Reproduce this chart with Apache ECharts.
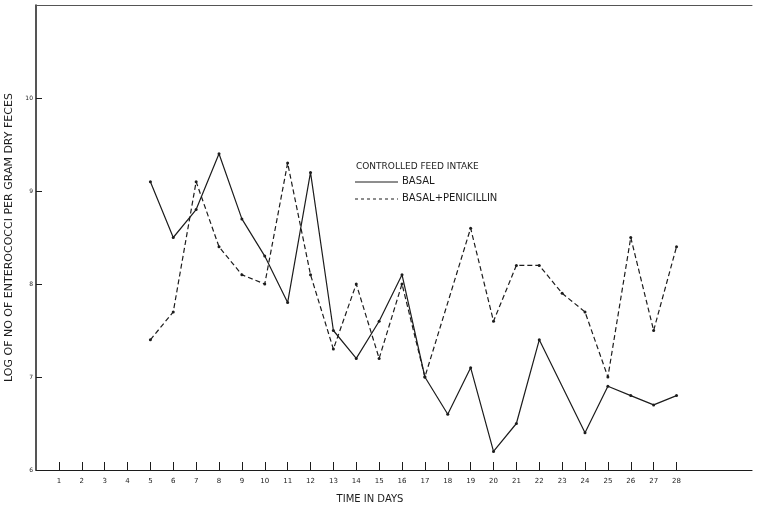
<!DOCTYPE html>
<html>
<head>
<meta charset="utf-8">
<script src="https://cdn.jsdelivr.net/npm/echarts@6/dist/echarts.min.js"></script>
<style>
    html,body{margin:0;padding:0;background:#fff;}
    #chart{width:762px;height:507px;}
</style>
</head>
<body>
<div id="chart"></div>
<script>
    // days shown on the axis
    var days = [1,2,3,4,5,6,7,8,9,10,11,12,13,14,15,16,17,18,19,20,21,22,23,24,25,26,27,28];
    var yTicks = [6,7,8,9,10];

    // basal (solid), no point read at day 23
    var basalDays = [5,6,7,8,9,10,11,12,13,14,15,16,17,18,19,20,21,22,24,25,26,27,28];
    var basalVals = [9.1,8.5,8.8,9.4,8.7,8.3,7.8,9.2,7.5,7.2,7.6,8.1,7.0,6.6,7.1,6.2,6.5,7.4,6.4,6.9,6.8,6.7,6.8];

    // basal + penicillin (dashed), no point read at day 18
    var penDays = [5,6,7,8,9,10,11,12,13,14,15,16,17,19,20,21,22,23,24,25,26,27,28];
    var penVals = [7.4,7.7,9.1,8.4,8.1,8.0,9.3,8.1,7.3,8.0,7.2,8.0,7.0,8.6,7.6,8.2,8.2,7.9,7.7,7.0,8.5,7.5,8.4];

    function pairs(xs, ys){
        return xs.map(function(x, i){ return [x, ys[i]]; });
    }

    var ink = '#1c1c1c';
    var font = '"DejaVu Sans", sans-serif';

    var chart = echarts.init(document.getElementById('chart'));
    var option = {
        backgroundColor: '#fff',
        animation: false,
        grid: {left: 36, right: 10, top: 5, bottom: 37, containLabel: false, outerBoundsMode: 'none'},
        xAxis: [{
            type: 'value',
            min: 0,
            max: 31.3,
            interval: 1,
            name: 'TIME IN DAYS',
            nameLocation: 'middle',
            nameGap: 24,
            nameTextStyle: {color: ink, fontSize: 10, fontFamily: font, padding: [0, 48, 0, 0]},
            axisLine: {lineStyle: {color: ink, width: 1.2}},
            axisTick: {inside: true, length: 8, customValues: days, lineStyle: {color: ink}},
            axisLabel: {customValues: days, color: ink, fontSize: 7, fontFamily: font, margin: 8},
            splitLine: {show: false}
        }, {
            type: 'value',
            position: 'top',
            min: 0,
            max: 31.3,
            axisLine: {show: true, lineStyle: {color: '#555', width: 1}},
            axisTick: {show: false},
            axisLabel: {show: false},
            splitLine: {show: false}
        }],
        yAxis: {
            type: 'value',
            min: 6,
            max: 11,
            interval: 1,
            name: 'LOG OF NO OF ENTEROCOCCI PER GRAM DRY FECES',
            nameLocation: 'middle',
            nameGap: 9,
            nameTextStyle: {color: ink, fontSize: 11, fontFamily: font},
            axisLine: {show: true, lineStyle: {color: ink, width: 1.5}},
            axisTick: {inside: true, length: 6, customValues: [7,8,9,10], lineStyle: {color: ink}},
            axisLabel: {customValues: yTicks, color: ink, fontSize: 6, fontFamily: font, margin: 3},
            splitLine: {show: false}
        },
        series: [{
            name: 'BASAL',
            type: 'line',
            data: pairs(basalDays, basalVals),
            symbol: 'circle',
            symbolSize: 3,
            itemStyle: {color: ink},
            lineStyle: {color: ink, width: 1.2}
        }, {
            name: 'BASAL+PENICILLIN',
            type: 'line',
            data: pairs(penDays, penVals),
            symbol: 'circle',
            symbolSize: 3,
            itemStyle: {color: ink},
            lineStyle: {color: ink, width: 1.2, type: [5, 3]}
        }],
        graphic: [
            {type: 'text', left: 356, top: 162, style: {text: 'CONTROLLED FEED INTAKE', fill: ink, font: '9px ' + font}},
            {type: 'line', shape: {x1: 355, y1: 182, x2: 398, y2: 182}, style: {stroke: ink, lineWidth: 1}},
            {type: 'text', left: 402, top: 176, style: {text: 'BASAL', fill: ink, font: '10px ' + font}},
            {type: 'line', shape: {x1: 355, y1: 199, x2: 398, y2: 199}, style: {stroke: ink, lineWidth: 1, lineDash: [3, 3]}},
            {type: 'text', left: 402, top: 193, style: {text: 'BASAL+PENICILLIN', fill: ink, font: '10px ' + font}}
        ]
    };
    chart.setOption(option);
</script>
</body>
</html>
